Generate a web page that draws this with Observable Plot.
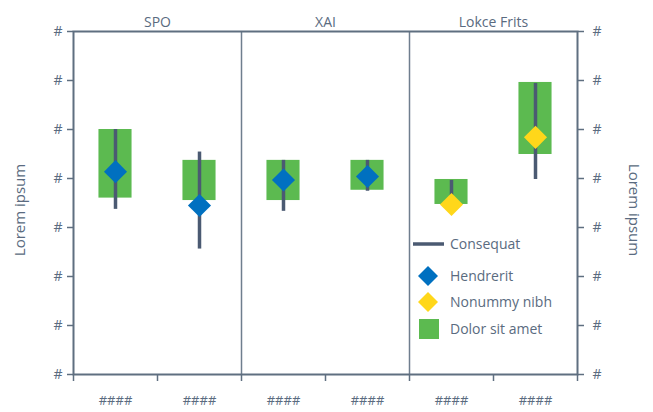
<!DOCTYPE html>
<html>
<head>
<meta charset="utf-8">
<script src="https://cdn.jsdelivr.net/npm/d3@7"></script>
<script src="https://cdn.jsdelivr.net/npm/@observablehq/plot@0.6"></script>
<style>
  html, body { margin: 0; padding: 0; background: #fff; }
  #wrap { position: relative; width: 653px; height: 412px; font-family: "Open Sans", sans-serif; color: #5a6b80; }
  #legend { position: absolute; left: 410px; top: 230px; }
</style>
</head>
<body>
<div id="wrap"><div id="chart"></div><svg id="legend" width="150" height="115"></svg></div>
<script>
// ---- data ----
const facets = ["SPO", "XAI", "Lokce Frits"];
const categories = ["####", "####", "####", "####", "####", "####"];
const facetIndex = [0, 0, 1, 1, 2, 2];
const boxLow  = [3.60, 3.55, 3.55, 3.76, 3.47, 4.49];
const boxHigh = [5.00, 4.37, 4.37, 4.37, 3.98, 5.96];
const lineLow  = [3.37, 2.56, 3.33, 3.74, 3.48, 3.98];
const lineHigh = [5.00, 4.54, 4.37, 4.37, 3.96, 5.94];
const markerValue = [4.14, 3.45, 3.97, 4.04, 3.47, 4.84];
const markerSeries = ["Hendrerit", "Hendrerit", "Hendrerit", "Hendrerit", "Nonummy nibh", "Nonummy nibh"];
const yTickLabels = ["#", "#", "#", "#", "#", "#", "#", "#"];
const seriesNames = ["Consequat", "Hendrerit", "Nonummy nibh", "Dolor sit amet"];
const axisTitle = "Lorem ipsum";

// ---- styles ----
const GREEN = "#5cba50", BLUE = "#0070c0", YELLOW = "#ffd71a", LINE = "#4b5a72", FRAME = "#5f6f80";
const markerColor = {"Hendrerit": BLUE, "Nonummy nibh": YELLOW};
const boxHalf = 0.197;

const rows = categories.map((c, i) => ({
  i, label: c, facet: facetIndex[i],
  boxLow: boxLow[i], boxHigh: boxHigh[i],
  lineLow: lineLow[i], lineHigh: lineHigh[i],
  value: markerValue[i], series: markerSeries[i]
}));
const perFacet = categories.length / facets.length;
const boundaries = d3.range(1, facets.length).map(k => k * perFacet);
const yTicks = d3.range(yTickLabels.length);

const plot = Plot.plot({
  width: 653, height: 412,
  marginLeft: 73, marginRight: 76, marginTop: 31, marginBottom: 38,
  style: {fontFamily: "Open Sans, sans-serif", fontSize: "14px", color: "#5a6b80", background: "transparent"},
  x: {domain: [0, categories.length], axis: null},
  y: {domain: [0, yTickLabels.length - 1], axis: null},
  marks: [
    Plot.rect(rows, {x1: d => d.i + 0.5 - boxHalf, x2: d => d.i + 0.5 + boxHalf, y1: "boxLow", y2: "boxHigh", fill: GREEN}),
    Plot.ruleX(rows, {x: d => d.i + 0.5, y1: "lineLow", y2: "lineHigh", stroke: LINE, strokeWidth: 3.5}),
    Plot.dot(rows, {x: d => d.i + 0.5, y: "value", symbol: "diamond2", r: 10.4, fill: d => markerColor[d.series], stroke: "none"}),
    Plot.ruleX(boundaries, {stroke: "#6f7e8e", strokeWidth: 1.5}),
    Plot.frame({stroke: FRAME, strokeWidth: 2}),
    Plot.axisY({anchor: "left", ticks: yTicks, tickFormat: i => yTickLabels[i], tickSize: 6, tickPadding: 5, stroke: FRAME, strokeWidth: 1.5, fontSize: 14, label: null}),
    Plot.axisY({anchor: "right", ticks: yTicks, tickFormat: i => yTickLabels[i], tickSize: 6, tickPadding: 9, stroke: FRAME, strokeWidth: 1.5, fontSize: 14, label: null}),
    Plot.axisX({anchor: "bottom", ticks: d3.range(categories.length + 1), tickFormat: () => "", tickSize: 7, stroke: FRAME, strokeWidth: 1.5, label: null}),
    Plot.axisX({anchor: "bottom", ticks: rows.map(d => d.i + 0.5), tickFormat: x => categories[Math.floor(x)], tickSize: 0, tickPadding: 21, fontSize: 13, label: null}),
    Plot.text(facets, {x: (d, k) => k * perFacet + perFacet / 2, text: d => d, frameAnchor: "top", dy: -14.5, fontSize: 14, fill: "#5a6b80"}),
    Plot.text([axisTitle], {text: d => d, frameAnchor: "left", textAnchor: "middle", dx: -53, dy: 7, rotate: -90, fontSize: 15, fill: "#5a6b80"}),
    Plot.text([axisTitle], {text: d => d, frameAnchor: "right", textAnchor: "middle", dx: 56, dy: 7, rotate: 90, fontSize: 15, fill: "#5a6b80"})
  ]
});
document.getElementById("chart").appendChild(plot);

// ---- legend (inside plot area, HTML overlay) ----
const lg = d3.select("#legend");
const ox = 410, oy = 230;
const rowY = [244, 276, 302, 329].map(v => v - oy);
// line
lg.append("line").attr("x1", 413 - ox).attr("x2", 444 - ox).attr("y1", rowY[0]).attr("y2", rowY[0]).attr("stroke", LINE).attr("stroke-width", 3.5);
// diamonds
[[BLUE, 1], [YELLOW, 2]].forEach(([c, k]) => {
  const cx = 428 - ox, cy = rowY[k], r = 10;
  lg.append("path").attr("d", `M${cx},${cy - r}L${cx + r},${cy}L${cx},${cy + r}L${cx - r},${cy}Z`).attr("fill", c);
});
// square
lg.append("rect").attr("x", 419 - ox).attr("y", rowY[3] - 10).attr("width", 20).attr("height", 20).attr("fill", GREEN);
seriesNames.forEach((s, k) => {
  lg.append("text").attr("x", 450 - ox).attr("y", rowY[k]).attr("dy", "0.35em")
    .attr("font-family", "Open Sans, sans-serif").attr("font-size", 14).attr("fill", "#5a6b80").text(s);
});
</script>
</body>
</html>
